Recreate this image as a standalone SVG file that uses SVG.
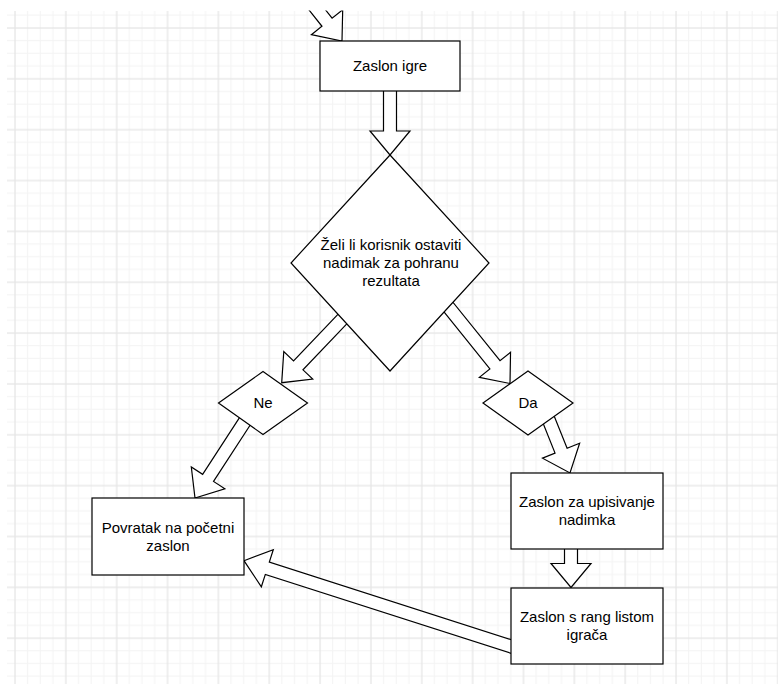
<svg xmlns="http://www.w3.org/2000/svg" width="778" height="684" viewBox="0 0 778 684">
  <style>
    .node { fill: #ffffff; stroke: #000000; stroke-width: 1.2; }
    .arrow { fill: #ffffff; stroke: #000000; stroke-width: 1.2; stroke-linejoin: miter; }
    .label { font-family: "Liberation Sans", Arial, sans-serif; font-size: 15px; fill: #000000; text-anchor: middle; }
  </style>
  <defs>
    <pattern id="grid" patternUnits="userSpaceOnUse" x="9" y="22" width="50.85" height="50.85">
      <rect x="0" y="0" width="50.85" height="50.85" fill="#ffffff"/>
      <rect x="18.06" y="0" width="1" height="50.85" fill="#f4f4f4"/>
      <rect x="30.77" y="0" width="1" height="50.85" fill="#f4f4f4"/>
      <rect x="43.49" y="0" width="1" height="50.85" fill="#f4f4f4"/>
      <rect x="0" y="18.06" width="50.85" height="1" fill="#f4f4f4"/>
      <rect x="0" y="30.77" width="50.85" height="1" fill="#f4f4f4"/>
      <rect x="0" y="43.49" width="50.85" height="1" fill="#f4f4f4"/>
      <rect x="5.35" y="0" width="1.3" height="50.85" fill="#e6e6e6"/>
      <rect x="0" y="5.35" width="50.85" height="1.3" fill="#e6e6e6"/>
    </pattern>
    <clipPath id="topclip">
      <rect x="0" y="10.5" width="778" height="674"/>
    </clipPath>
  </defs>

  <rect x="0" y="0" width="778" height="684" fill="#ffffff"/>
  <rect x="7" y="11" width="771" height="673" fill="url(#grid)"/>

  <g id="connectors">
    <polygon class="arrow" clip-path="url(#topclip)" points="287.1,-17.6 321.96,26.26 311.4,34.7 342,41 342.7,9.75 332.1,18.16 297.3,-25.65"/>
    <polygon class="arrow" points="383.5,85 383.5,131 370,131 390,155 410,131 396.5,131 396.5,85"/>
    <polygon class="arrow" points="345.99,305.81 293.55,360.83 283.78,351.52 281.7,382.7 312.74,379.12 302.97,369.81 355.41,314.79"/>
    <polygon class="arrow" points="244.05,410.66 202.63,474.35 191.32,466.99 195,498 224.84,488.79 213.53,481.43 254.95,417.74"/>
    <polygon class="arrow" points="435.94,301.88 489.89,368.88 479.37,377.34 510,383.5 510.53,352.26 500.01,360.72 446.06,293.72"/>
    <polygon class="arrow" points="536.07,405.82 555.04,453.15 542.51,458.17 570,473 579.63,443.29 567.1,448.31 548.13,400.98"/>
    <polygon class="arrow" points="564.5,540 564.5,563.5 551,563.5 571,587.5 591,563.5 577.5,563.5 577.5,540"/>
    <polygon class="arrow" points="522.09,643.21 269.31,562.01 273.29,549.64 244,560.7 261.35,586.76 265.33,574.39 518.11,655.59"/>
  </g>

  <g id="zaslon-igre">
    <rect class="node" x="320" y="41" width="140" height="50"/>
    <text class="label" x="390" y="71">Zaslon igre</text>
  </g>

  <g id="odluka">
    <polygon class="node" points="390,155 489,263 390,371 291,263"/>
    <text class="label" x="391" y="250">Želi li korisnik ostaviti</text>
    <text class="label" x="391" y="268">nadimak za pohranu</text>
    <text class="label" x="391" y="286">rezultata</text>
  </g>

  <g id="ne">
    <polygon class="node" points="263,371.5 307.5,403 263,434.5 218.5,403"/>
    <text class="label" x="263" y="408">Ne</text>
  </g>

  <g id="da">
    <polygon class="node" points="528,371 573,403 528,435 483,403"/>
    <text class="label" x="528" y="408">Da</text>
  </g>

  <g id="povratak">
    <rect class="node" x="92" y="498" width="152" height="77"/>
    <text class="label" x="168" y="532.5">Povratak na početni</text>
    <text class="label" x="168" y="550.5">zaslon</text>
  </g>

  <g id="upisivanje">
    <rect class="node" x="511" y="473" width="152" height="76"/>
    <text class="label" x="587" y="507">Zaslon za upisivanje</text>
    <text class="label" x="587" y="525">nadimka</text>
  </g>

  <g id="rang-lista">
    <rect class="node" x="511" y="588" width="152" height="76"/>
    <text class="label" x="587" y="622">Zaslon s rang listom</text>
    <text class="label" x="587" y="640">igrača</text>
  </g>
</svg>
